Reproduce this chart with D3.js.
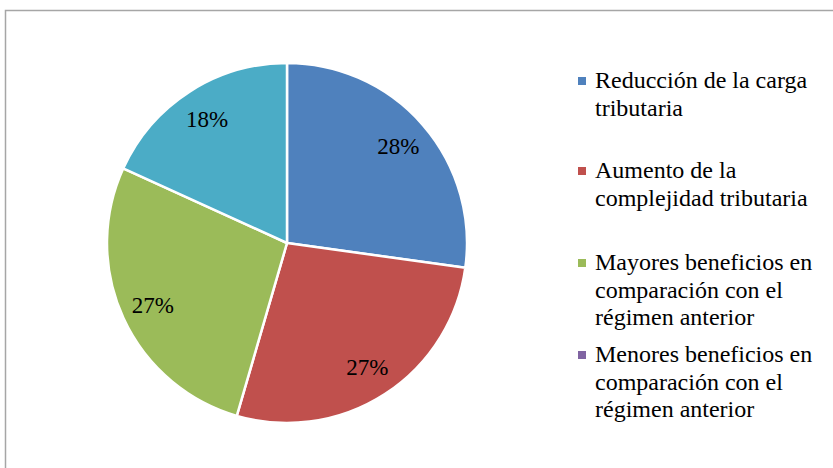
<!DOCTYPE html>
<html>
<head>
<meta charset="utf-8">
<script src="https://cdn.jsdelivr.net/npm/d3@7"></script>
<style>
  body { margin: 0; background: #fff; }
  svg { display: block; }
</style>
</head>
<body>
<svg id="vis"></svg>
<script>
const width = 833;
const height = 468;

// slices (share of the circle, in %)
const categories = [
  "Reducción de la carga tributaria",
  "Aumento de la complejidad tributaria",
  "Mayores beneficios en comparación con el régimen anterior",
  "Menores beneficios en comparación con el régimen anterior"
];
const values = [27.2, 27.3, 27.3, 18.2, 0];
const sliceLabels = ["28%", "27%", "27%", "18%", ""];
// legend wraps as in the original
const legendLines = [
  ["Reducción de la carga", "tributaria"],
  ["Aumento de la", "complejidad tributaria"],
  ["Mayores beneficios en", "comparación con el", "régimen anterior"],
  ["Menores beneficios en", "comparación con el", "régimen anterior"]
];
const colors = ["#4F81BD", "#C0504D", "#9BBB59", "#4BACC6", "#8064A2"];
const legendColors = ["#4F81BD", "#C0504D", "#9BBB59", "#8064A2"];

const svg = d3.select("svg#vis")
  .attr("width", width)
  .attr("height", height)
  .attr("font-family", "Liberation Serif")
  .attr("font-size", 23);

// chart frame (runs off the right and bottom edge)
svg.append("rect")
  .attr("x", 5.5)
  .attr("y", 10.5)
  .attr("width", 860)
  .attr("height", 480)
  .attr("fill", "none")
  .attr("stroke", "#a6a6a6")
  .attr("stroke-width", 1.5);

const cx = 287, cy = 243, r = 180;
const plot = svg.append("g").attr("transform", translate(cx, cy));

const pie = d3.pie().sort(null).value(d => d);
const arcs = pie(values);
const arc = d3.arc().innerRadius(0).outerRadius(r);
const labelArc = d3.arc().innerRadius(r * 0.82).outerRadius(r * 0.82);

plot.selectAll("path.slice")
  .data(arcs.filter(d => d.value > 0))
  .enter()
  .append("path")
  .attr("class", "slice")
  .attr("d", arc)
  .attr("fill", d => colors[d.index])
  .attr("stroke", "#fff")
  .attr("stroke-width", 2.5)
  .attr("stroke-linejoin", "round");

plot.selectAll("text.pct")
  .data(arcs.filter(d => d.value > 0))
  .enter()
  .append("text")
  .attr("class", "pct")
  .attr("x", d => labelArc.centroid(d)[0])
  .attr("y", d => labelArc.centroid(d)[1] + 8)
  .attr("text-anchor", "middle")
  .attr("fill", "#000")
  .text(d => sliceLabels[d.index]);

// legend
const legendTops = [88, 178, 270, 362];
const lineH = 27.5;

categories.forEach(function(c, i) {
  svg.append("rect")
    .attr("x", 578)
    .attr("y", legendTops[i] - 11)
    .attr("width", 8)
    .attr("height", 8)
    .attr("fill", legendColors[i]);

  legendLines[i].forEach(function(line, j) {
    svg.append("text")
      .attr("x", 595)
      .attr("y", legendTops[i] + j * lineH)
      .attr("font-size", 24)
      .attr("fill", "#000")
      .text(line);
  });
});

function translate(x, y) {
  return "translate(" + String(x) + "," + String(y) + ")";
}
</script>
</body>
</html>
